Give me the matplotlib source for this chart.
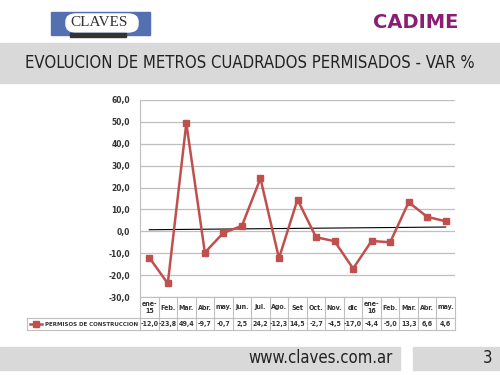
import numpy as np
import matplotlib
matplotlib.use('Agg')
import matplotlib.pyplot as plt
from matplotlib.patches import Rectangle, FancyBboxPatch
from matplotlib.lines import Line2D
import matplotlib.transforms as mtransforms

months = ['ene-\n15', 'Feb.', 'Mar.', 'Abr.', 'may.', 'jun.', 'Jul.', 'Ago.', 'Set',
          'Oct.', 'Nov.', 'dic', 'ene-\n16', 'Feb.', 'Mar.', 'Abr.', 'may.']
values = [-12.0, -23.8, 49.4, -9.7, -0.7, 2.5, 24.2, -12.3, 14.5,
          -2.7, -4.5, -17.0, -4.4, -5.0, 13.3, 6.6, 4.6]
series_name = 'PERMISOS DE CONSTRUCCION'
yticks = [-30, -20, -10, 0, 10, 20, 30, 40, 50, 60]

red = '#c0504d'
grid_c = '#bfbfbf'
band_c = '#d9d9d9'
txt_c = '#333333'
plt.rcParams['font.family'] = ['DejaVu Sans']
cond = dict(family='DejaVu Sans', stretch='condensed')

W, H = 500, 375
fig = plt.figure(figsize=(5, 3.75), dpi=100)
fig.patch.set_facecolor('white')

def fx(px):
    return px / W

def fy(py):
    return 1 - py / H

# header band + title
fig.patches.append(Rectangle((0, fy(83)), 1, fy(43) - fy(83), transform=fig.transFigure,
                             color=band_c, zorder=0))
fig.text(0.5, fy(63), 'EVOLUCION DE METROS CUADRADOS PERMISADOS - VAR %',
         ha='center', va='center', fontsize=12, color='#222222', **cond)

# logos
fig.patches.append(Rectangle((fx(51), fy(35)), fx(99), fy(12) - fy(35), transform=fig.transFigure,
                             color='#5470b0', zorder=1))
fig.patches.append(FancyBboxPatch((fx(66), fy(32)), fx(72), fy(14) - fy(32),
                                  boxstyle='round,pad=0,rounding_size=0.02',
                                  transform=fig.transFigure, color='white', zorder=2))
fig.patches.append(Rectangle((fx(70), fy(37)), fx(56), fy(33) - fy(37), transform=fig.transFigure,
                             color='#333333', zorder=2))
fig.text(fx(99), fy(23), 'CLAVES', ha='center', va='center', fontsize=11,
         family='Liberation Serif', color='#333333', zorder=3)
fig.text(fx(416), fy(22), 'CADIME', ha='center', va='center', fontsize=14,
         weight='heavy', color='#8c1d74', zorder=3)

# footer bands
fig.patches.append(Rectangle((0, fy(370)), fx(400), fy(347) - fy(370), transform=fig.transFigure,
                             color=band_c, zorder=0))
fig.patches.append(Rectangle((fx(413), fy(370)), fx(87), fy(347) - fy(370),
                             transform=fig.transFigure, color=band_c, zorder=0))
fig.text(fx(393), fy(358), 'www.claves.com.ar', ha='right', va='center', fontsize=12,
         color='#222222', **cond)
fig.text(fx(492), fy(358), '3', ha='right', va='center', fontsize=12, color='#222222', **cond)

# chart
ax = fig.add_axes([fx(140), fy(297), fx(455 - 140), fy(100) - fy(297)])
x = np.arange(len(values))
ax.plot(x, values, color=red, lw=1.8, marker='s', ms=5, zorder=3)
coef = np.polyfit(x, values, 1)
ax.plot(x, np.polyval(coef, x), color='black', lw=0.8, zorder=2)

ax.set_xlim(-0.5, len(values) - 0.5)
ax.set_ylim(-30, 60)
ax.set_yticks(yticks)
ax.set_yticklabels([f'{v:.1f}'.replace('.', ',') for v in yticks],
                   fontsize=6, weight='bold', color=txt_c, **cond)
ax.set_xticks([])
ax.tick_params(axis='y', length=0, pad=7)
ax.yaxis.grid(True, color=grid_c, lw=0.9)
ax.set_axisbelow(True)
for s in ['top', 'right', 'bottom']:
    ax.spines[s].set_visible(False)
ax.spines['left'].set_color(grid_c)

# data table under the axis
tr = mtransforms.blended_transform_factory(ax.transData, ax.transAxes)
ax_h = fy(100) - fy(297)
r1 = -(21 / H) / ax_h
r2 = -(33 / H) / ax_h
mid1 = r1 / 2
mid2 = (r1 + r2) / 2
n = len(values)
kw = dict(transform=tr, color=grid_c, lw=0.8, clip_on=False)
ax.add_line(Line2D([-0.5, n - 0.5], [0, 0], **kw))
ax.add_line(Line2D([-0.5, n - 0.5], [r1, r1], **kw))
ax.add_line(Line2D([-0.5, n - 0.5], [r2, r2], **kw))
for i in range(n + 1):
    ax.add_line(Line2D([i - 0.5, i - 0.5], [0, r2], **kw))
for i in range(n):
    ax.text(i, mid1, months[i], transform=tr, ha='center', va='center', fontsize=5,
            weight='bold', color=txt_c, linespacing=1.2, **cond)
    ax.text(i, mid2, f'{values[i]:.1f}'.replace('.', ','), transform=tr, ha='center',
            va='center', fontsize=5, weight='bold', color=txt_c, **cond)

# legend cell
ax_w = fx(455 - 140)
lx0 = -(140 - 27) / W / ax_w
lkw = dict(transform=ax.transAxes, color=grid_c, lw=0.8, clip_on=False)
ax.add_line(Line2D([lx0, 0], [r1, r1], **lkw))
ax.add_line(Line2D([lx0, 0], [r2, r2], **lkw))
ax.add_line(Line2D([lx0, lx0], [r1, r2], **lkw))
sx = lx0 + 3 / W / ax_w
ex = lx0 + 15 / W / ax_w
ax.add_line(Line2D([sx, ex], [mid2, mid2], transform=ax.transAxes, color=red, lw=1.8,
                   clip_on=False))
ax.add_line(Line2D([(sx + ex) / 2], [mid2], transform=ax.transAxes, color=red, marker='s',
                   ms=4, clip_on=False))
ax.text(-2 / W / ax_w, mid2, series_name, transform=ax.transAxes, ha='right', va='center',
        fontsize=4.4, weight='bold', color=txt_c, **cond)

fig.savefig('out.png', dpi=100)
